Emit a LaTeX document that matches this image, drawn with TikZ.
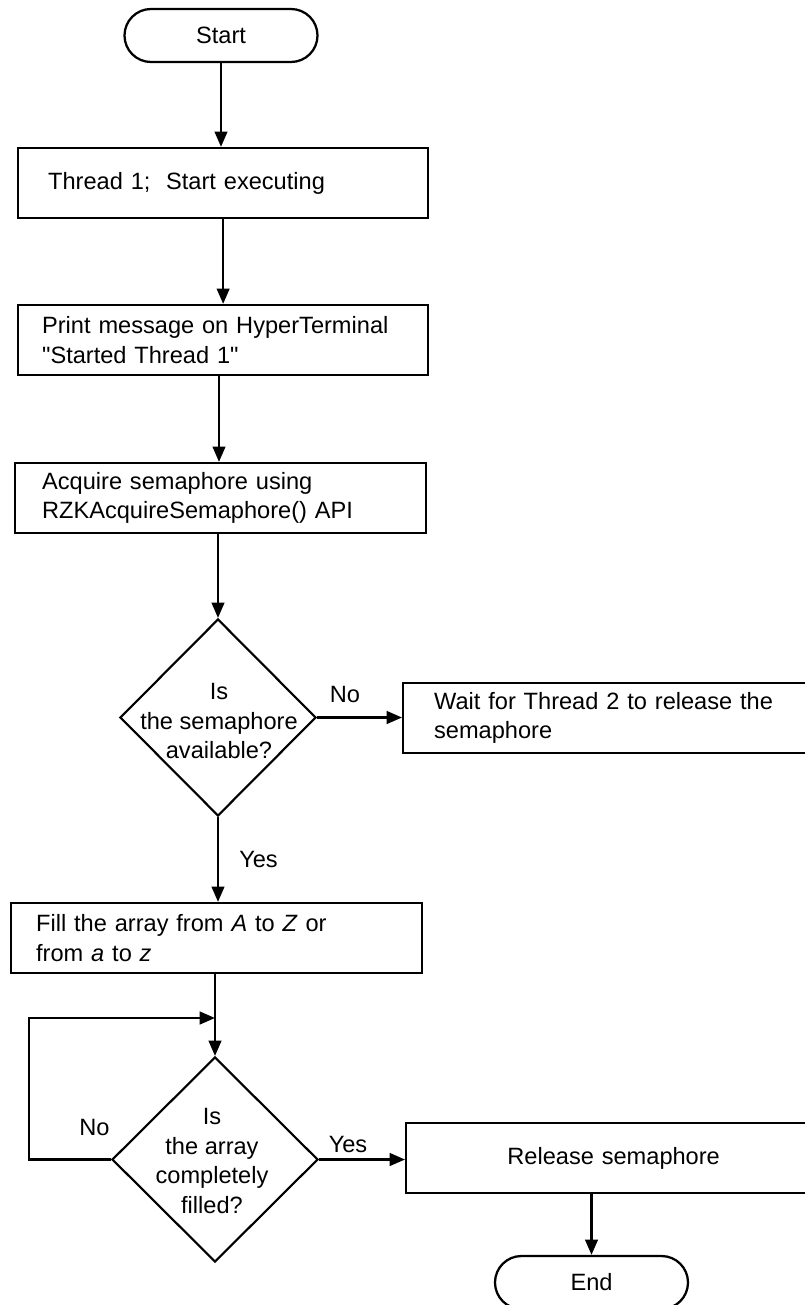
\documentclass[tikz,border=0pt]{standalone}
\usepackage{fontspec}
\setmainfont{Liberation Sans}[Ligatures=TeXOff]
\usetikzlibrary{shapes.geometric,shapes.misc,arrows.meta}
\begin{document}
\begin{tikzpicture}[x=0.75pt,y=-0.75pt,
  every node/.style={font=\fontsize{17.7pt}{22.1pt}\selectfont},
  box/.style={draw, line width=1.7pt, rectangle, minimum height=52.5pt, align=left, inner ysep=0pt, anchor=west},
  pill/.style={draw, line width=1.7pt, rounded rectangle, minimum width=144.75pt, minimum height=39.75pt, inner sep=0pt},
  dia/.style={draw, line width=1.6pt, diamond, inner sep=0pt},
  dtext/.style={align=center, inner sep=0pt},
  lab/.style={inner sep=0pt, anchor=base},
  arr/.style={line width=1.7pt, -{Triangle[length=11.5pt,width=9.5pt]}}]
\useasboundingbox (0,0) rectangle (805,1305);

% nodes
\node[pill] (start) at (221,35.5) {Start};
\node[box, inner xsep=22.5pt, text width=262.5pt] (b1) at (17,183) {Thread 1;\ \ Start executing};
\node[box, inner xsep=18pt, text width=271.5pt] (b2) at (17,340) {Print message on HyperTerminal\\"Started Thread 1"};
\node[box, inner xsep=20.25pt, text width=267.75pt] (b3) at (14,498) {Acquire semaphore using\\RZKAcquireSemaphore() API};
\node[dia, minimum width=147pt, minimum height=147.75pt] (d1) at (218,717.5) {};
\node[dtext] (d1t) at (219,721) {Is\\the semaphore\\available?};
\node[box, inner xsep=23.25pt, text width=267pt] (wait) at (402,718) {Wait for Thread 2 to release the\\semaphore};
\node[box, inner xsep=18.75pt, text width=270.75pt] (fill) at (10,938) {Fill the array from \textit{A} to \textit{Z} or\\from \textit{a} to \textit{z}};
\node[dia, minimum width=154.5pt, minimum height=153.75pt] (d2) at (215,1159.5) {};
\node[dtext] (d2t) at (212,1161) {Is\\the array\\completely\\filled?};
\node[box, align=center, inner xsep=0pt, text width=311.25pt] (rel) at (405,1158) {Release semaphore};
\node[pill] (end) at (591.5,1282.5) {End};
\coordinate (lc) at (29,1018);

% labels
\node[lab] (no1) at (345,702) {No};
\node[lab] (yes1) at (258.5,867) {Yes};
\node[lab] (no2) at (94.5,1135) {No};
\node[lab] (yes2) at (348,1152) {Yes};

% connectors
\draw[arr] (start.south) -- (start.south |- b1.north);
\draw[arr] (b1.south) -- (b1.south |- b2.north);
\draw[arr] (b2.south -| 219,0) -- (b3.north -| 219,0);
\draw[arr] (b3.south -| d1.north) -- (d1.north);
\draw[arr] (d1.east) -- (d1.east -| wait.west);
\draw[arr] (d1.south) -- (d1.south |- fill.north);
\draw[arr] (fill.south -| d2.north) -- (d2.north);
\draw[arr] (d2.west) -| (lc) -- (lc -| d2.north);
\draw[arr] (d2.east) -- (d2.east -| rel.west);
\draw[arr] (rel.south -| end.north) -- (end.north);
\end{tikzpicture}
\end{document}
